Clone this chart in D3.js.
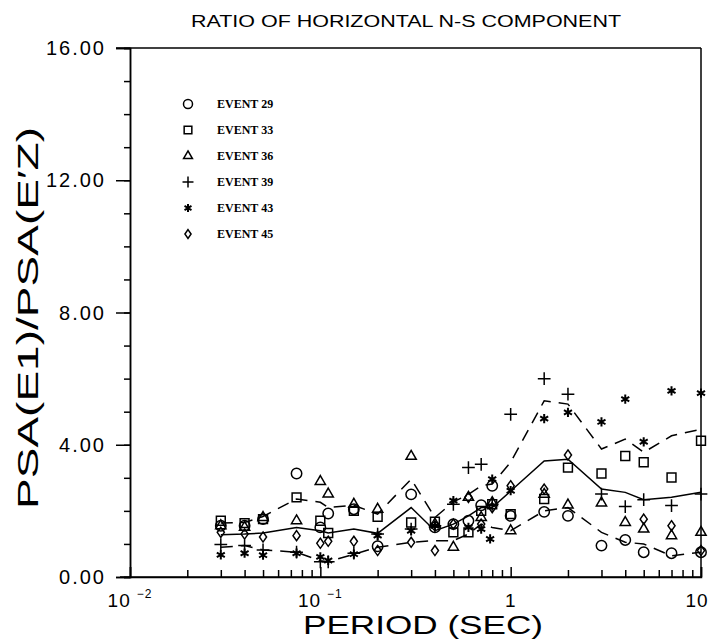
<!DOCTYPE html>
<html>
<head>
<meta charset="utf-8">
<script src="https://cdn.jsdelivr.net/npm/d3@7"></script>
<style>
  body { margin: 0; background: #fff; }
  svg { display: block; }
</style>
</head>
<body>
<div id="container"></div>
<script>
/* DATA */
const periods = [0.03, 0.04, 0.05, 0.075, 0.1, 0.11, 0.15, 0.2, 0.3, 0.4, 0.5, 0.6, 0.7, 0.78, 0.8, 1.0, 1.5, 2, 3, 4, 5, 7, 10];

const event29 = [1.55, 1.55, 1.75, 3.13, 1.5, 1.92, 2.05, 0.93, 2.5, 1.5, 1.6, 1.7, 2.17, null, 2.76, 1.85, 1.97, 1.85, 0.95, 1.12, 0.75, 0.72, 0.75];
const event33 = [1.7, 1.63, 1.75, 2.41, 1.7, 1.33, 2.0, 1.82, 1.65, 1.67, 1.35, 1.35, 2.0, null, 2.2, 1.9, 2.36, 3.31, 3.13, 3.66, 3.47, 3.01, 4.12];
const event36 = [1.55, 1.5, 1.8, 1.7, 2.89, 2.51, 2.2, 2.05, 3.65, 1.6, 0.9, 2.41, 1.8, null, 2.25, 1.4, 2.5, 2.18, 2.24, 1.65, 1.45, 1.25, 1.35];
const event39 = [0.98, 0.95, 0.82, 0.75, 0.46, 0.46, 0.72, 1.3, 1.45, 1.55, 2.2, 3.31, 3.41, null, 2.2, 4.92, 6.0, 5.53, 2.51, 2.13, 2.34, 2.16, 2.51];
const event43 = [0.67, 0.72, 0.66, 0.72, 0.61, 0.5, 0.69, 1.25, 1.4, 1.55, 2.31, 1.5, 1.45, 1.15, 2.96, 2.61, 4.79, 4.98, 4.69, 5.38, 4.09, 5.63, 5.56];
const event45 = [1.35, 1.3, 1.21, 1.25, 1.02, 1.08, 1.08, 0.8, 1.05, 0.8, 1.6, 2.41, 1.6, null, 2.1, 2.76, 2.66, 3.69, null, null, 1.75, 1.55, 0.8];

const meanLine  = [1.28, 1.3, 1.33, 1.5, 1.4, 1.33, 1.45, 1.32, 2.1, 1.4, 1.6, 1.85, 2.1, null, 2.1, 2.6, 3.51, 3.56, 2.66, 2.56, 2.34, 2.41, 2.56];
const upperLine = [1.63, 1.65, 1.83, 2.36, 2.26, 2.1, 2.17, 1.9, 2.96, 1.8, 2.27, 2.5, 2.76, null, 2.81, 3.47, 5.33, 5.23, 3.87, 4.17, 3.77, 4.27, 4.47];
const lowerLine = [0.9, 0.95, 0.82, 0.75, 0.49, 0.46, 0.69, 0.9, 1.05, 1.1, 1.1, 1.3, 1.6, null, 1.5, 1.4, 2.0, 2.1, 1.35, 1.05, 1.0, 0.64, 0.75];

const eventNames = ["EVENT 29", "EVENT 33", "EVENT 36", "EVENT 39", "EVENT 43", "EVENT 45"];
const eventValues = [event29, event33, event36, event39, event43, event45];

const yMajorTicks = [0, 4, 8, 12, 16];
const xMajorTicks = [0.01, 0.1, 1, 10];

/* LAYOUT */
const W = 711, H = 641;
const plotLeft = 130, plotRight = 701, plotTop = 48, plotBottom = 577;

const xScale = d3.scaleLog().domain([0.01, 10]).range([plotLeft, plotRight]);
const yScale = d3.scaleLinear().domain([0, 16]).range([plotBottom, plotTop]);

const svg = d3.select("#container").append("svg")
  .attr("width", W).attr("height", H)
  .style("font-family", "'Liberation Sans', Arial, sans-serif");

// title
svg.append("text")
  .attr("x", 406).attr("y", 27)
  .attr("text-anchor", "middle")
  .attr("font-size", 16)
  .attr("textLength", 430).attr("lengthAdjust", "spacingAndGlyphs")
  .text("RATIO OF HORIZONTAL N-S COMPONENT");

// frame: top and right
svg.append("line").attr("x1", plotLeft - 14).attr("x2", plotRight).attr("y1", plotTop).attr("y2", plotTop)
  .attr("stroke", "#000").attr("stroke-width", 1.5);
svg.append("line").attr("x1", plotRight).attr("x2", plotRight).attr("y1", plotTop).attr("y2", plotBottom)
  .attr("stroke", "#000").attr("stroke-width", 1.5);

/* Y AXIS */
const yAxisG = svg.append("g").attr("transform", `translate(${plotLeft},0)`);
yAxisG.call(d3.axisLeft(yScale).tickValues(d3.range(0, 17, 1)).tickSize(6).tickFormat(""));
yAxisG.append("g").call(d3.axisLeft(yScale).tickValues(yMajorTicks).tickSize(14).tickFormat(""));
yAxisG.selectAll("path.domain").attr("stroke-width", 1.5);
yAxisG.selectAll("line").attr("stroke-width", 1.5);

svg.selectAll("text.ylab")
  .data(yMajorTicks)
  .join("text")
  .attr("class", "ylab")
  .attr("x", plotLeft - 24)
  .attr("y", d => yScale(d) + 7)
  .attr("text-anchor", "end")
  .attr("font-size", 20)
  .attr("letter-spacing", 2)
  .text(d => d.toFixed(2));

/* X AXIS (ticks point inward) */
const minorX = [];
for (let e = -2; e < 1; e++) for (let m = 2; m <= 9; m++) minorX.push(m * Math.pow(10, e));
const xAxisG = svg.append("g").attr("transform", `translate(0,${plotBottom})`);
xAxisG.call(d3.axisBottom(xScale).tickValues(minorX).tickSize(-7).tickFormat(""));
xAxisG.append("g").call(d3.axisBottom(xScale).tickValues(xMajorTicks).tickSize(-10).tickFormat(""));
xAxisG.select("path.domain").attr("d", `M${plotLeft - 10},0H${plotRight}`);
xAxisG.selectAll("path.domain").attr("stroke-width", 1.5);
xAxisG.selectAll("line").attr("stroke-width", 1.5);

// x tick labels with exponents
const xLab = svg.selectAll("text.xlab")
  .data(xMajorTicks)
  .join("text")
  .attr("class", "xlab")
  .attr("x", d => d === 10 ? xScale(d) - 4 : xScale(d))
  .attr("y", plotBottom + 30)
  .attr("text-anchor", "middle")
  .attr("font-size", 19)
  .attr("letter-spacing", 1);
xLab.each(function (d) {
  const t = d3.select(this);
  const exp = Math.round(Math.log10(d));
  if (exp === 0) { t.text("1"); return; }
  if (exp === 1) { t.text("10"); return; }
  t.append("tspan").text("10");
  t.append("tspan").attr("dx", 6).attr("dy", -9).attr("font-size", 12).text("\u2212" + Math.abs(exp));
});

// axis titles
svg.append("text")
  .attr("transform", "translate(38,318) rotate(-90)")
  .attr("text-anchor", "middle")
  .attr("font-size", 30)
  .attr("textLength", 382).attr("lengthAdjust", "spacingAndGlyphs")
  .text("PSA(E1)/PSA(E\u2032Z)");

svg.append("text")
  .attr("x", 423).attr("y", 634)
  .attr("text-anchor", "middle")
  .attr("font-size", 26)
  .attr("textLength", 240).attr("lengthAdjust", "spacingAndGlyphs")
  .text("PERIOD  (SEC)");

/* LINES */
const lineGen = d3.line()
  .x(d => xScale(d[0]))
  .y(d => yScale(d[1]));

const band = [
  { vals: meanLine, dash: null },
  { vals: upperLine, dash: "12,8" },
  { vals: lowerLine, dash: "12,8" }
];
svg.selectAll("path.band")
  .data(band)
  .join("path")
  .attr("class", "band")
  .attr("d", d => lineGen(periods.map((p, i) => [p, d.vals[i]]).filter(q => q[1] != null)))
  .attr("fill", "none")
  .attr("stroke", "#000")
  .attr("stroke-width", 1.5)
  .attr("stroke-dasharray", d => d.dash);

/* MARKERS */
const symbols = [
  { type: d3.symbolCircle, size: 85, sx: 1, sy: 1 },
  { type: d3.symbolSquare2, size: 100, sx: 1, sy: 1 },
  { type: d3.symbolTriangle2, size: 75, sx: 1, sy: 1 },
  { type: d3.symbolPlus, size: 55, sx: 1, sy: 1 },
  { type: d3.symbolAsterisk, size: 60, sx: 1, sy: 1 },
  { type: d3.symbolDiamond2, size: 45, sx: 0.85, sy: 1.2 }
];

eventValues.forEach((vals, k) => {
  const s = symbols[k];
  const pts = periods.map((p, i) => [p, vals[i]]).filter(d => d[1] != null);
  svg.append("g").selectAll("path")
    .data(pts)
    .join("path")
    .attr("d", d3.symbol().type(s.type).size(s.size))
    .attr("transform", d => `translate(${xScale(d[0])},${yScale(d[1])}) scale(${s.sx},${s.sy})`)
    .attr("fill", "none")
    .attr("stroke", "#000")
    .attr("stroke-width", k === 4 ? 2 : 1.5);
});

/* LEGEND */
const legend = svg.append("g");
eventNames.forEach((name, k) => {
  const s = symbols[k];
  const y = 104 + k * 26;
  legend.append("path")
    .attr("d", d3.symbol().type(s.type).size(s.size * 0.75))
    .attr("transform", `translate(188,${y}) scale(${s.sx},${s.sy})`)
    .attr("fill", "none").attr("stroke", "#000").attr("stroke-width", k === 4 ? 2 : 1.5);
  legend.append("text")
    .attr("x", 217).attr("y", y + 4)
    .attr("font-family", "'Liberation Serif', 'Times New Roman', serif")
    .attr("font-weight", "bold")
    .attr("font-size", 12)
    .text(name);
});
</script>
</body>
</html>
